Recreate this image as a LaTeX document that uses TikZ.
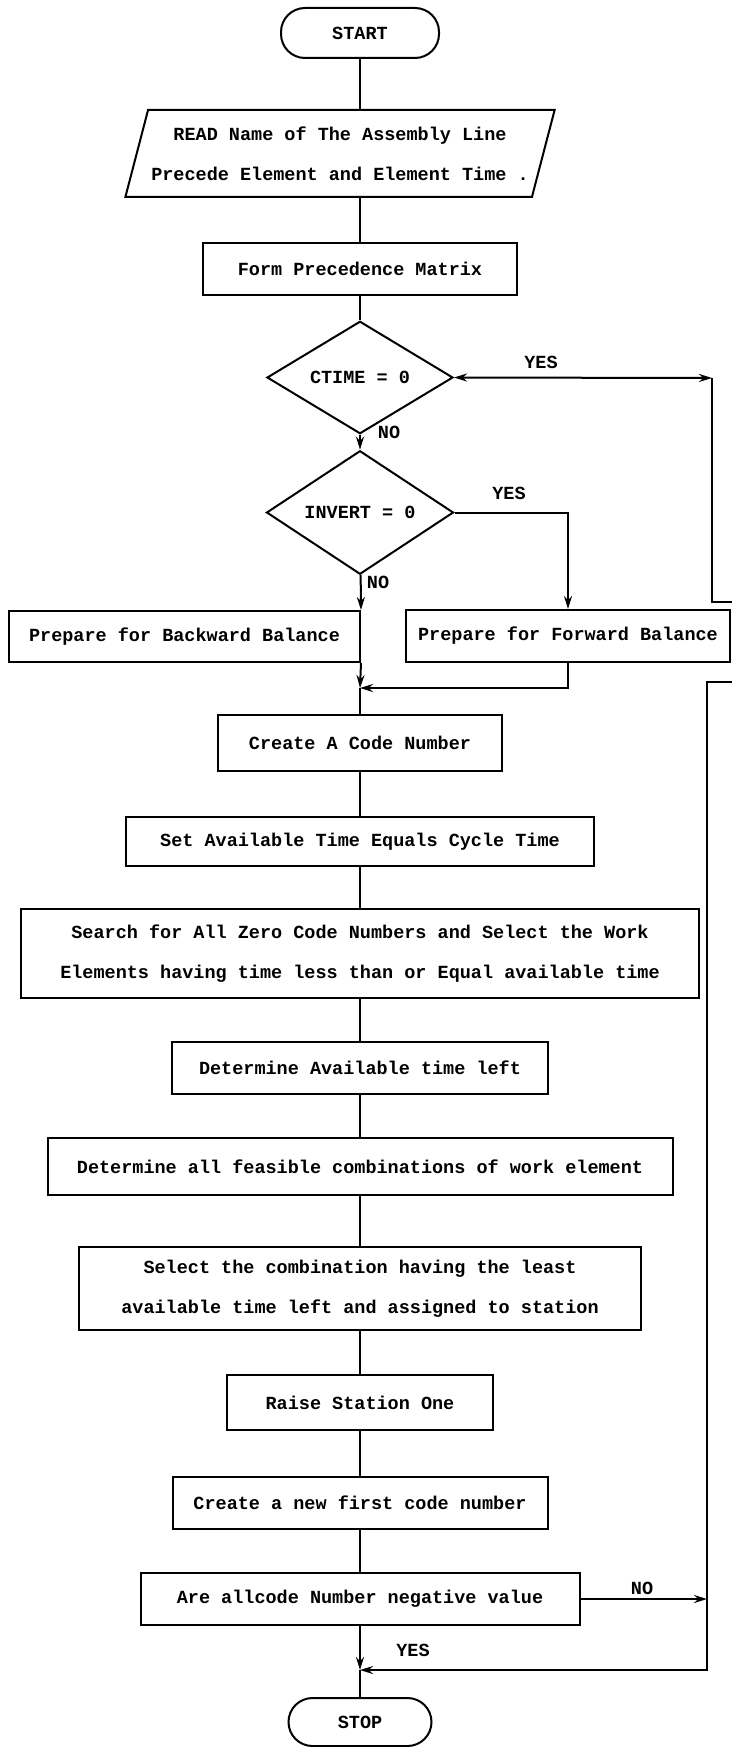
\documentclass[tikz,border=0pt]{standalone}
\usepackage{fontspec}
\setmonofont{Liberation Mono}
\usetikzlibrary{shapes.geometric,arrows.meta}

\begin{document}
\begin{tikzpicture}[x=1pt, y=-1pt, line width=2pt,
    font=\ttfamily\bfseries\fontsize{18.5}{40}\selectfont,
    box/.style={draw, inner sep=0pt, align=center},
    inout/.style={draw, trapezium, trapezium left angle=67.5, trapezium right angle=112.5,
        trapezium stretches=true, inner sep=0pt, align=center},
    decision/.style={draw, diamond, inner sep=0pt},
    terminal/.style={draw, rounded corners=24pt, inner sep=0pt},
    arr/.style={-{Stealth[length=13pt, width=8pt]}},
    twoarr/.style={{Stealth[length=13pt, width=8pt]}-{Stealth[length=13pt, width=8pt]}}]

    \useasboundingbox (0,0) rectangle (732,1747);

    \node[terminal, minimum width=158pt, minimum height=50pt] (start) at (360,33) {START};
    \node[inout, minimum width=430pt, minimum height=87pt] (read) at (340,153.5)
        {READ Name of The Assembly Line\\Precede Element and Element Time .};
    \node[box, minimum width=314pt, minimum height=52pt] (form) at (360,269) {Form Precedence Matrix};
    \node[decision, minimum width=186pt, minimum height=85pt] (ctime) at (360,377.5) {CTIME = 0};
    \node[decision, minimum width=187pt, minimum height=95pt] (invert) at (360,512.5) {INVERT = 0};
    \node[box, minimum width=351pt, minimum height=51pt] (backward) at (184.5,636.5) {Prepare for Backward Balance};
    \node[box, minimum width=324pt, minimum height=52pt] (forward) at (568,636) {Prepare for Forward Balance};
    \node[box, minimum width=284pt, minimum height=56pt] (code) at (360,743) {Create A Code Number};
    \node[box, minimum width=468pt, minimum height=49pt] (settime) at (360,841.5) {Set Available Time Equals Cycle Time};
    \node[box, minimum width=678pt, minimum height=89pt] (search) at (360,953.5)
        {Search for All Zero Code Numbers and Select the Work\\Elements having time less than or Equal available time};
    \node[box, minimum width=376pt, minimum height=52pt] (timeleft) at (360,1068) {Determine Available time left};
    \node[box, minimum width=625pt, minimum height=57pt] (feasible) at (360,1166.5)
        {Determine all feasible combinations of work element};
    \node[box, minimum width=562pt, minimum height=83pt] (select) at (360,1288.5)
        {Select the combination having the least\\available time left and assigned to station};
    \node[box, minimum width=266pt, minimum height=55pt] (raise) at (360,1402.5) {Raise Station One};
    \node[box, minimum width=375pt, minimum height=52pt] (newcode) at (360,1503) {Create a new first code number};
    \node[box, minimum width=439pt, minimum height=52pt] (allneg) at (360,1599) {Are allcode Number negative value};
    \node[terminal, minimum width=143pt, minimum height=48pt] (stop) at (360,1722) {STOP};

    \node (ctimeyes) at (541,362) {YES};
    \node (ctimeno) at (389,432) {NO};
    \node (invertyes) at (509,493) {YES};
    \node (invertno) at (378,582) {NO};
    \node (allnegno) at (642,1588) {NO};
    \node (allnegyes) at (413,1650) {YES};

    \coordinate (join) at (360,688);
    \coordinate (endjoin) at (360,1670);
    \coordinate (loopa) at (712,378);
    \coordinate (upout) at (732,602);
    \coordinate (downin) at (732,682);
    \coordinate (loopb) at (707,1670);

    \draw (start) -- (start |- read.north);
    \draw (read.south -| form) -- (form);
    \draw (form) -- (ctime);
    \draw[arr] (ctime) -- (invert);
    \draw[arr] (invert) -- (backward.north east);
    \draw[arr] (invert.east) -| (forward.north);
    \draw[arr] (backward.south east) -- (join);
    \draw[arr] (forward.south) |- (join);
    \draw (join) -- (code);

    \draw (code) -- (settime);
    \draw (settime) -- (search);
    \draw (search) -- (timeleft);
    \draw (timeleft) -- (feasible);
    \draw (feasible) -- (select);
    \draw (select) -- (raise);
    \draw (raise) -- (newcode);
    \draw (newcode) -- (allneg);

    \draw[arr] (allneg) -- (endjoin);
    \draw (endjoin) -- (stop);
    \draw[arr] (allneg.east) -- (allneg.east -| loopb);
    \draw[arr] (downin) -| (loopb) -- (endjoin);

    \draw[twoarr] (ctime.east) -- (loopa);
    \draw (loopa) |- (upout);
\end{tikzpicture}
\end{document}
